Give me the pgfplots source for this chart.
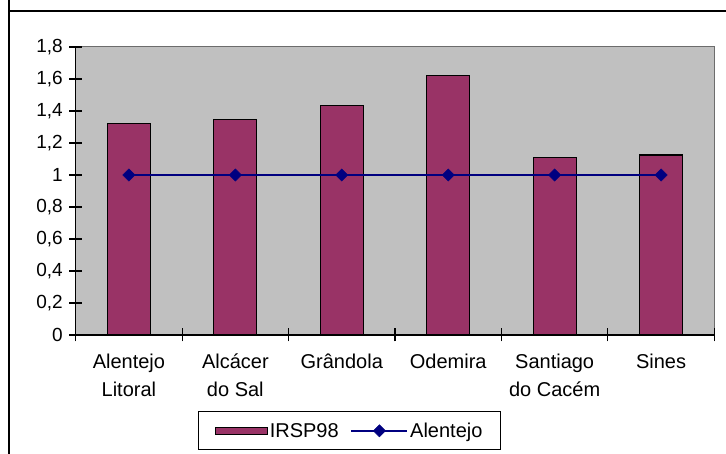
\documentclass[border=0pt]{standalone}
\usepackage{fontspec}
\setmainfont{Liberation Sans}
\usepackage{pgfplots}
\pgfplotsset{compat=1.18}
\definecolor{barc}{HTML}{993366}
\definecolor{linec}{HTML}{000080}
\definecolor{plotbg}{HTML}{C0C0C0}
\pgfplotsset{
  barleg/.style={legend image code/.code={\draw[##1] (0pt,-3.5pt) rectangle (52pt,3.5pt);}},
  lineleg/.style={legend image code/.code={\draw[##1,mark repeat=2,mark phase=2] plot coordinates {(0pt,0pt) (28pt,0pt) (56pt,0pt)};}},
}
\begin{document}
\begin{tikzpicture}
\useasboundingbox (0,0) rectangle (726pt,454pt);
\draw[line width=1.3pt] (9pt,460pt) -- (9pt,443pt) -- (740pt,443pt);
\draw[line width=1.3pt] (9pt,443pt) -- (9pt,-10pt);
\begin{axis}[
  at={(75.7pt,119pt)}, anchor=south west,
  scale only axis, width=638.6pt, height=288pt,
  font=\fontsize{16.5}{19}\selectfont,
  xmin=0.5, xmax=6.5, ymin=0, ymax=1.8,
  axis x line*=bottom, axis y line*=left,
  x axis line style={-}, y axis line style={-},
  axis line style={line width=1.2pt},
  axis background/.style={fill=plotbg, draw=gray!85!black, line width=1pt},
  xtick={0.5,1.5,2.5,3.5,4.5,5.5,6.5}, xticklabels={},
  extra x ticks={1,2,3,4,5,6},
  extra x tick labels={{Alentejo\\Litoral},{Alcácer\\do Sal},{Grândola},{Odemira},{Santiago\\do Cacém},{Sines}},
  extra x tick style={major tick length=0pt, tick label style={align=center, yshift=-15pt, font=\fontsize{20}{28.5}\selectfont}},
  ytick={0,0.2,0.4,0.6,0.8,1,1.2,1.4,1.6,1.8},
  yticklabels={0,{0,2},{0,4},{0,6},{0,8},1,{1,2},{1,4},{1,6},{1,8}},
  yticklabel style={xshift=-3pt, font=\fontsize{19}{22}\selectfont},
  tick align=center, major tick length=13pt,
  tick style={black, line width=1.2pt},
  legend columns=2,
  legend style={at={(0.4288,-0.265)}, anchor=north, draw=black, line width=1pt, fill=white,
    font=\fontsize{20}{24}\selectfont, inner xsep=16pt, inner ysep=9pt,
    nodes={inner sep=2pt},
    /tikz/every even column/.append style={column sep=10pt}},
]
\addplot[ybar, bar width=43pt, bar shift=0pt, fill=barc, draw=black, line width=1.2pt, barleg]
  coordinates {(1,1.323) (2,1.348) (3,1.436) (4,1.623) (5,1.111) (6,1.125)};
\addlegendentry{IRSP98}
\addplot[linec, line width=1.5pt, mark=square*, mark size=4.3pt, mark options={fill=linec, draw=linec, line width=0.5pt, rotate=45}, lineleg]
  coordinates {(1,1) (2,1) (3,1) (4,1) (5,1) (6,1)};
\addlegendentry{Alentejo}
\end{axis}
\end{tikzpicture}
\end{document}
